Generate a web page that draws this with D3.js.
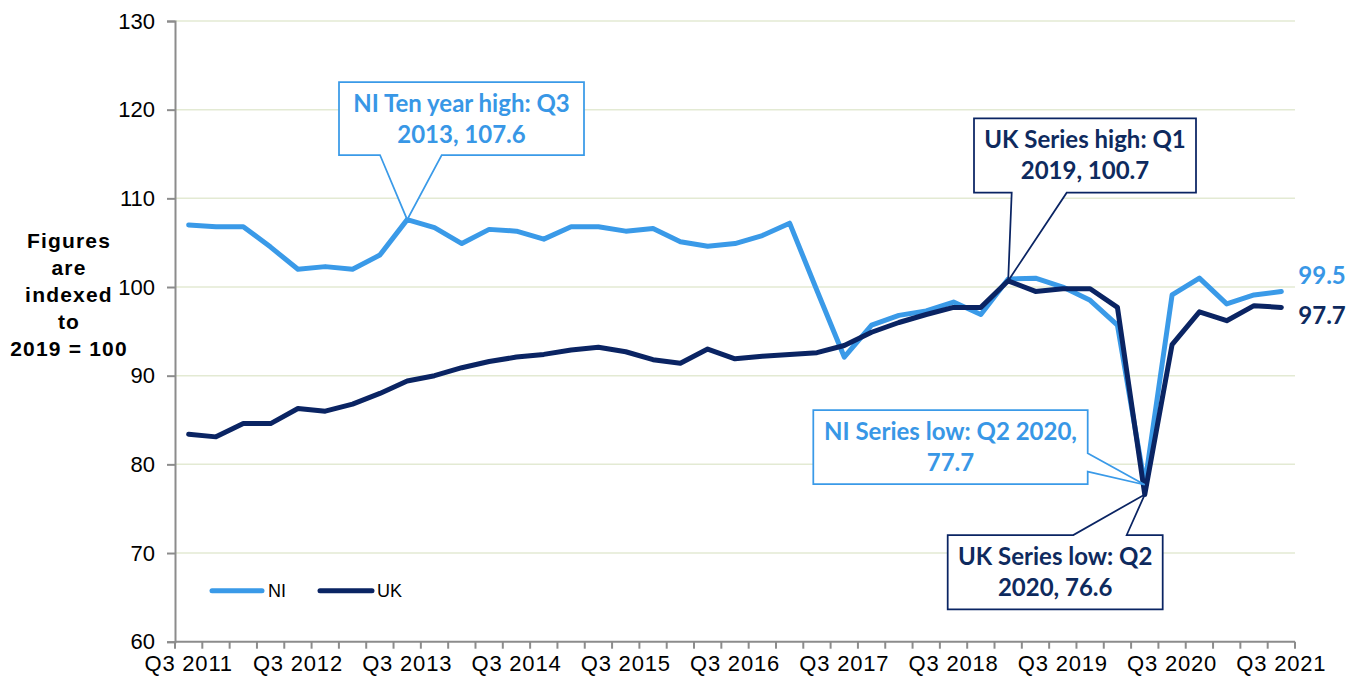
<!DOCTYPE html>
<html>
<head>
<meta charset="utf-8">
<script src="https://cdn.jsdelivr.net/npm/d3@7"></script>
<style>
  html, body { margin: 0; padding: 0; background: #ffffff; }
  svg { display: block; }
</style>
</head>
<body>
<svg id="chart" width="1364" height="680"></svg>
<script>
// ---------------- DATA ----------------
const quarters = [
  "Q3 2011","Q4 2011","Q1 2012","Q2 2012","Q3 2012","Q4 2012","Q1 2013","Q2 2013",
  "Q3 2013","Q4 2013","Q1 2014","Q2 2014","Q3 2014","Q4 2014","Q1 2015","Q2 2015",
  "Q3 2015","Q4 2015","Q1 2016","Q2 2016","Q3 2016","Q4 2016","Q1 2017","Q2 2017",
  "Q3 2017","Q4 2017","Q1 2018","Q2 2018","Q3 2018","Q4 2018","Q1 2019","Q2 2019",
  "Q3 2019","Q4 2019","Q1 2020","Q2 2020","Q3 2020","Q4 2020","Q1 2021","Q2 2021",
  "Q3 2021"
];
const niValues = [
  107.0,106.8,106.8,104.5,102.0,102.3,102.0,103.6,107.6,106.7,104.9,106.5,106.3,105.4,
  106.8,106.8,106.3,106.6,105.1,104.6,104.9,105.8,107.2,99.6,92.1,95.7,96.8,97.3,98.3,
  96.9,100.9,101.0,100.0,98.5,95.7,77.7,99.1,101.0,98.1,99.1,99.5
];
const ukValues = [
  83.4,83.1,84.6,84.6,86.3,86.0,86.8,88.0,89.4,90.0,90.9,91.6,92.1,92.4,92.9,93.2,
  92.7,91.8,91.4,93.0,91.9,92.2,92.4,92.6,93.4,94.9,96.0,96.9,97.7,97.7,100.7,99.5,
  99.8,99.8,97.7,76.6,93.5,97.2,96.2,97.9,97.7
];
const seriesNames = ["NI", "UK"];
const xTickLabels = ["Q3 2011","Q3 2012","Q3 2013","Q3 2014","Q3 2015","Q3 2016",
                     "Q3 2017","Q3 2018","Q3 2019","Q3 2020","Q3 2021"];
const yTicks = [60, 70, 80, 90, 100, 110, 120, 130];
const yTitleLines = ["Figures", "are", "indexed", "to", "2019 = 100"];
const annotations = [
  { series: "NI", quarter: "Q3 2013", lines: ["NI Ten year high: Q3", "2013, 107.6"] },
  { series: "UK", quarter: "Q1 2019", lines: ["UK Series high: Q1", "2019, 100.7"] },
  { series: "NI", quarter: "Q2 2020", lines: ["NI Series low: Q2 2020,", "77.7"] },
  { series: "UK", quarter: "Q2 2020", lines: ["UK Series low: Q2", "2020, 76.6"] }
];

// ---------------- LAYOUT / STYLE ----------------
const colors = { NI: "#3A9AE8", UK: "#0A2463" };
const textColors = { NI: "#3897E6", UK: "#0E2A5E" };
const plot = { left: 175, right: 1295, top: 21, bottom: 641.7 };
// callout boxes: [x0, y0, x1, y1], side of the wedge, wedge base positions
const calloutLayout = [
  { box: [339, 82, 584, 155],       side: "bottom", base: [380, 441.7] },
  { box: [974, 118.3, 1196, 192.7], side: "bottom", base: [1011.7, 1066.7] },
  { box: [813.3, 410, 1087.7, 484], side: "right",  base: [453.3, 471.7] },
  { box: [947.7, 535, 1162.7, 609.3], side: "top",  base: [1073.3, 1126.7] }
];

const svg = d3.select("#chart");
const series = { NI: niValues, UK: ukValues };

const x = d3.scaleBand().domain(quarters).range([plot.left, plot.right]).paddingInner(0).paddingOuter(0);
const y = d3.scaleLinear().domain([60, 130]).range([plot.bottom, plot.top]);
const cx = q => x(q) + x.bandwidth() / 2;

// gridlines
svg.append("g").selectAll("line").data(yTicks.filter(t => t > 60)).join("line")
  .attr("x1", plot.left).attr("x2", plot.right)
  .attr("y1", d => y(d)).attr("y2", d => y(d))
  .attr("stroke", "#E3EAD3").attr("stroke-width", 1.5);

// Y axis
const yAxis = d3.axisLeft(y).tickValues(yTicks).tickSize(8).tickPadding(12).tickFormat(d3.format("d"));
const gy = svg.append("g").attr("transform", `translate(${plot.left},0)`).call(yAxis);
gy.select(".domain").attr("stroke", "#8C8C8C").attr("stroke-width", 2);
gy.selectAll(".tick line").attr("stroke", "#8C8C8C").attr("stroke-width", 2);
gy.selectAll(".tick text").attr("font-family", "Liberation Sans, Arial, sans-serif")
  .attr("font-size", 22).attr("fill", "#000");

// X axis: labels every 4th quarter at category centres
const xAxis = d3.axisBottom(x).tickValues(xTickLabels).tickSize(0).tickPadding(14);
const gx = svg.append("g").attr("transform", `translate(0,${plot.bottom})`).call(xAxis);
gx.select(".domain").remove();
gx.selectAll(".tick text").attr("font-family", "Liberation Sans, Arial, sans-serif")
  .attr("font-size", 22).attr("fill", "#000").attr("letter-spacing", "0.8px")
  .attr("dy", "0.71em");
// x axis line and boundary ticks
svg.append("line").attr("x1", plot.left).attr("x2", plot.right)
  .attr("y1", plot.bottom).attr("y2", plot.bottom)
  .attr("stroke", "#8C8C8C").attr("stroke-width", 2);
const boundaries = quarters.map(q => x(q)).concat([x(quarters[quarters.length - 1]) + x.bandwidth()]);
svg.append("g").selectAll("line").data(boundaries).join("line")
  .attr("x1", d => d).attr("x2", d => d)
  .attr("y1", plot.bottom).attr("y2", plot.bottom + 7)
  .attr("stroke", "#8C8C8C").attr("stroke-width", 2);

// Y title
svg.append("text")
  .attr("font-family", "Liberation Sans, Arial, sans-serif")
  .attr("font-weight", "bold").attr("font-size", 21).attr("letter-spacing", "1.2px")
  .attr("text-anchor", "middle").attr("fill", "#000")
  .selectAll("tspan").data(yTitleLines).join("tspan")
  .attr("x", 69).attr("y", (d, i) => 247.7 + i * 27)
  .text(d => d);

// lines
const lineGen = d3.line().x((d, i) => cx(quarters[i])).y(d => y(d));
seriesNames.forEach(name => {
  svg.append("path").datum(series[name])
    .attr("d", lineGen)
    .attr("fill", "none").attr("stroke", colors[name]).attr("stroke-width", 5)
    .attr("stroke-linejoin", "round").attr("stroke-linecap", "round");
});

// end labels
const lastQ = quarters[quarters.length - 1];
const lastIdx = quarters.length - 1;
const endOffsets = { NI: -7, UK: 17 };
seriesNames.forEach(name => {
  svg.append("text")
    .attr("x", cx(lastQ) + 17).attr("y", y(series[name][lastIdx]) + endOffsets[name])
    .attr("font-family", "Lato, 'Open Sans', sans-serif").attr("font-weight", "bold")
    .attr("font-size", 24).attr("fill", textColors[name])
    .text(d3.format(".1f")(series[name][lastIdx]));
});

// legend
const legendItems = [
  { name: "NI", x1: 212, x2: 262, tx: 268 },
  { name: "UK", x1: 320, x2: 372, tx: 377 }
];
const lg = svg.append("g");
legendItems.forEach(it => {
  lg.append("line").attr("x1", it.x1).attr("x2", it.x2).attr("y1", 590.7).attr("y2", 590.7)
    .attr("stroke", colors[it.name]).attr("stroke-width", 5).attr("stroke-linecap", "round");
  lg.append("text").attr("x", it.tx).attr("y", 597)
    .attr("font-family", "Liberation Sans, Arial, sans-serif").attr("font-size", 18)
    .attr("fill", "#000").text(it.name);
});

// callouts
function calloutPath(b, side, base, tx, ty) {
  const [x0, y0, x1, y1] = b;
  const p = d3.path();
  if (side === "bottom") {
    p.moveTo(x0, y0); p.lineTo(x1, y0); p.lineTo(x1, y1);
    p.lineTo(base[1], y1); p.lineTo(tx, ty); p.lineTo(base[0], y1);
    p.lineTo(x0, y1); p.closePath();
  } else if (side === "top") {
    p.moveTo(x0, y0); p.lineTo(base[0], y0); p.lineTo(tx, ty); p.lineTo(base[1], y0);
    p.lineTo(x1, y0); p.lineTo(x1, y1); p.lineTo(x0, y1); p.closePath();
  } else {
    p.moveTo(x0, y0); p.lineTo(x1, y0); p.lineTo(x1, base[0]); p.lineTo(tx, ty);
    p.lineTo(x1, base[1]); p.lineTo(x1, y1); p.lineTo(x0, y1); p.closePath();
  }
  return p.toString();
}
annotations.forEach((a, i) => {
  const L = calloutLayout[i];
  const idx = quarters.indexOf(a.quarter);
  const tx = cx(a.quarter), ty = y(series[a.series][idx]);
  const g = svg.append("g");
  g.append("path").attr("d", calloutPath(L.box, L.side, L.base, tx, ty))
    .attr("fill", "#fff").attr("stroke", colors[a.series]).attr("stroke-width", 1.75)
    .attr("stroke-linejoin", "miter");
  const mid = (L.box[0] + L.box[2]) / 2;
  g.append("text")
    .attr("font-family", "Lato, 'Open Sans', sans-serif").attr("font-weight", "bold")
    .attr("font-size", 24).attr("fill", textColors[a.series]).attr("text-anchor", "middle")
    .selectAll("tspan").data(a.lines).join("tspan")
    .attr("x", mid).attr("y", (d, j) => L.box[1] + 30 + j * 31)
    .text(d => d);
});
</script>
</body>
</html>
